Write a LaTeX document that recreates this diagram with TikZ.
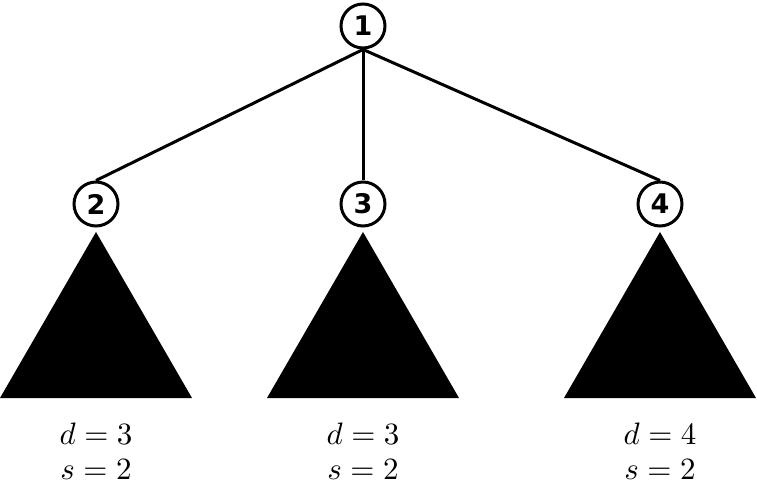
\documentclass[tikz,border=0pt]{standalone}
\usepackage{amsmath}
\usepackage{graphicx}
\usepackage{fontspec}
\newfontfamily\numfont{DejaVu Sans}
\newcommand\lab[1]{\scalebox{3.1}{$#1$}}

\begin{document}
\begin{tikzpicture}[x=1pt,y=1pt,
  vert/.style={circle,draw,line width=3pt,minimum size=44pt,inner sep=0pt,
    font=\numfont\bfseries\fontsize{27}{27}\selectfont}]
  \useasboundingbox (0,0) rectangle (757,490);
  \node[vert] (one) at (363,464) {1};
  \node[vert] (two) at (96,286) {2};
  \node[vert] (three) at (363,286) {3};
  \node[vert] (four) at (660,286) {4};
  \draw[line width=3pt] (one.south)--(two.north);
  \draw[line width=3pt] (one.south)--(three.north);
  \draw[line width=3pt] (one.south)--(four.north);
  % subtrees
  \fill (96,258) -- (192,92) -- (0,92) -- cycle;
  \fill (363,258) -- (459,92) -- (267,92) -- cycle;
  \fill (660,258) -- (756,92) -- (564,92) -- cycle;
  \node (d2) at (96,56) {\lab{d=3}};
  \node (s2) at (96,20) {\lab{s=2}};
  \node (d3) at (363,56) {\lab{d=3}};
  \node (s3) at (363,20) {\lab{s=2}};
  \node (d4) at (660,56) {\lab{d=4}};
  \node (s4) at (660,20) {\lab{s=2}};
\end{tikzpicture}
\end{document}
